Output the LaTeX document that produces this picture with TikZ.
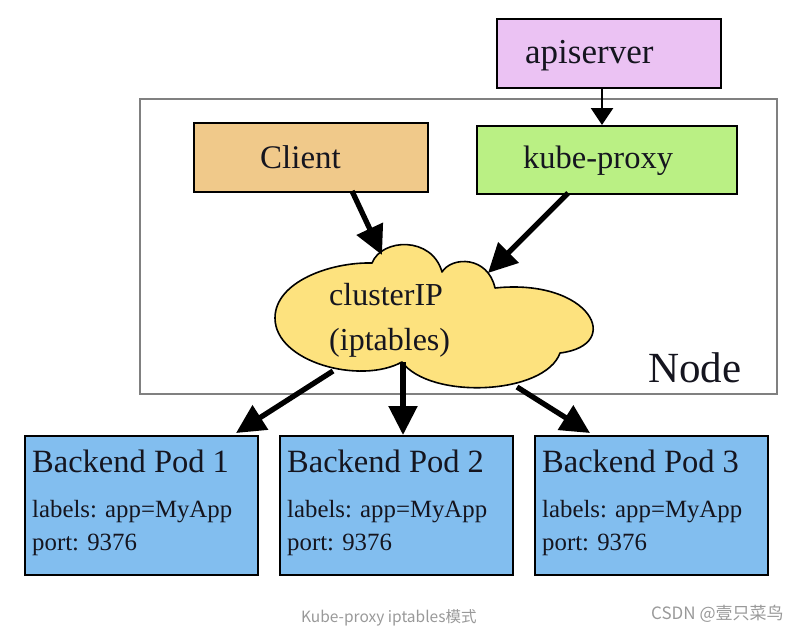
\documentclass[tikz,border=0pt]{standalone}
\usepackage{fontspec}
\setmainfont{Liberation Serif}
\newfontfamily\capfont{Noto Sans CJK SC}
\usetikzlibrary{arrows.meta}
\definecolor{apic}{HTML}{EBC2F3}
\definecolor{clic}{HTML}{F0C98A}
\definecolor{kpc}{HTML}{BAF084}
\definecolor{cloudc}{HTML}{FDE27E}
\definecolor{podc}{HTML}{82BEEF}
\definecolor{capc}{HTML}{999999}
\definecolor{txtc}{HTML}{15151F}
\tikzset{
  boxst/.style={draw=black, line width=2pt, anchor=north west, inner sep=0pt},
  txt/.style={anchor=base west, inner sep=0pt, text=txtc},
  bigarrow/.style={line width=5.3pt, -{Triangle[length=29pt,width=28pt]}},
  thinarrow/.style={line width=2.6pt, -{Triangle[length=17pt,width=22pt]}}
}
\begin{document}
\begin{tikzpicture}[x=1pt,y=-1pt]
\useasboundingbox (0,0) rectangle (802,632);
% Node frame
\node[draw=black!50, line width=1.5pt, anchor=north west, minimum width=637pt, minimum height=295pt, inner sep=0pt] (nodeframe) at (139,98) {};
\node[txt, font=\fontsize{43}{48}\selectfont] (nodelbl) at (648,382) {Node};
% apiserver
\node[boxst, fill=apic, minimum width=224pt, minimum height=69pt] (api) at (496,18) {};
\node[txt, font=\fontsize{35}{40}\selectfont] (apit) at (525,63) {apiserver};
% Client
\node[boxst, fill=clic, minimum width=234pt, minimum height=69pt] (client) at (193,122) {};
\node[txt, font=\fontsize{33}{38}\selectfont] (clientt) at (260,168) {Client};
% kube-proxy
\node[boxst, fill=kpc, minimum width=260pt, minimum height=68pt] (kp) at (476,125) {};
\node[txt, font=\fontsize{32.5}{38}\selectfont] (kpt) at (523,168) {kube-proxy};
% cloud
\coordinate (c1) at (372,263);
\coordinate (c2) at (442,272);
\coordinate (c3) at (495,288);
\coordinate (c4) at (560,353);
\coordinate (c5) at (402,362);
\coordinate (cL) at (275,318);
\draw[fill=cloudc, line width=1.6pt, line join=round]
  (c1) .. controls (382,238) and (432,236) .. (c2)
       .. controls (452,256) and (488,256) .. (c3)
       .. controls (590,278) and (625,345) .. (c4)
       .. controls (545,395) and (430,400) .. (c5)
       .. controls (360,385) and (275,362) .. (cL)
       .. controls (275,282) and (330,262) .. (c1) -- cycle;
\node[txt, font=\fontsize{32}{36}\selectfont] (cipt) at (329,305) {clusterIP};
\node[txt, font=\fontsize{32}{36}\selectfont] (iptt) at (329,350) {(iptables)};
% pods
\foreach \i/\x in {1/24, 2/279, 3/534}{
  \node[boxst, fill=podc, minimum width=233pt, minimum height=139pt] (pod\i) at (\x,435) {};
  \node[txt, font=\fontsize{32.5}{36}\selectfont] (pod\i t) at (\x+8,472) {Backend Pod \i};
  \node[txt, font=\fontsize{24.8}{28}\selectfont] (pod\i l) at (\x+8,517) {labels: app=MyApp};
  \node[txt, font=\fontsize{24.8}{28}\selectfont] (pod\i p) at (\x+8,550) {port: 9376};
}
% arrow coordinates
\coordinate (apiS) at (602,87);
\coordinate (kpN) at (602,125);
\coordinate (cliS) at (352,191);
\coordinate (cloudTopL) at (382,255);
\coordinate (kpS) at (568,193);
\coordinate (cloudTopR) at (488,273);
\coordinate (cloudB1) at (333,371);
\coordinate (cloudB2) at (403,362);
\coordinate (cloudB3) at (517,387);
\coordinate (pod1N) at (236,433);
\coordinate (pod2N) at (403,435);
\coordinate (pod3N) at (590,433);
\draw[thinarrow] (apiS) -- (kpN);
\draw[bigarrow] (cliS) -- (cloudTopL);
\draw[bigarrow] (kpS) -- (cloudTopR);
\draw[bigarrow] (cloudB1) -- (pod1N);
\draw[bigarrow] (cloudB2) -- (pod2N);
\draw[bigarrow] (cloudB3) -- (pod3N);
% captions
\node[anchor=base west, inner sep=0pt, text=capc, font=\capfont\fontsize{15.5}{18}\selectfont] (cap) at (301,622) {Kube-proxy iptables模式};
\node[anchor=base west, inner sep=0pt, text=capc, font=\capfont\fontsize{17}{20}\selectfont] (csdn) at (651,619) {CSDN @壹只菜鸟};
\end{tikzpicture}
\end{document}
